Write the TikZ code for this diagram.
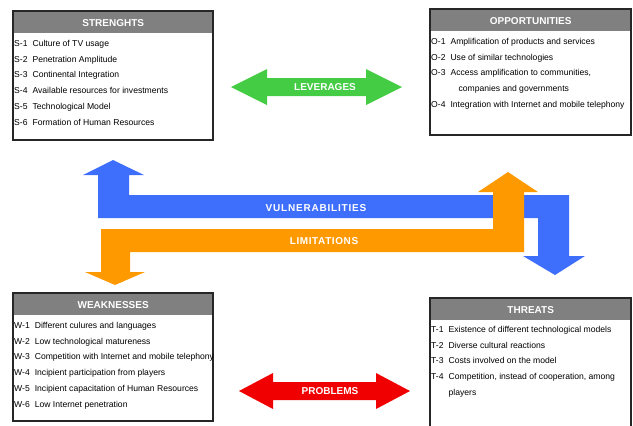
\documentclass[tikz,border=0pt]{standalone}
\usepackage{fontspec}
\setmainfont{Liberation Sans}
\usetikzlibrary{positioning}

\definecolor{hgray}{RGB}{128,128,128}
\definecolor{lgreen}{RGB}{68,204,68}
\definecolor{vblue}{RGB}{62,110,252}
\definecolor{lorange}{RGB}{255,153,0}
\definecolor{pred}{RGB}{240,0,0}

\begin{document}
\begin{tikzpicture}[x=1pt,y=-1pt,font=\fontsize{8.6}{15.8}\selectfont]
\tikzstyle{frame}=[draw=black!85,line width=1.4pt,outer sep=0pt,anchor=north west]
\tikzstyle{head}=[fill=hgray,text=white,font=\fontsize{10}{12}\selectfont\bfseries,minimum height=21,inner sep=0pt,anchor=north west]
\tikzstyle{body}=[anchor=north west,inner sep=0pt,align=left]
\tikzstyle{lab}=[text=white,font=\fontsize{10}{11}\selectfont\bfseries]
\useasboundingbox (0,0) rectangle (633,426);
% strenghts
\node[head,minimum width=200] (sh) at (13,12) {STRENGHTS};
\node[frame,minimum width=200,minimum height=129] (sf) at (13,11) {};
\node[body] (sb) at (14,35) {\begin{tabular}{@{}l@{\hspace{5pt}}l@{}}S-1&Culture of TV usage\\ S-2&Penetration Amplitude\\ S-3&Continental Integration\\ S-4&Available resources for investments\\ S-5&Technological Model\\ S-6&Formation of Human Resources\end{tabular}};
% opportunities
\node[head,minimum width=201] (oh) at (430,10) {OPPORTUNITIES};
\node[frame,minimum width=201,minimum height=126] (of) at (430,9) {};
\node[body] (ob) at (431,33) {\begin{tabular}{@{}l@{\hspace{5pt}}l@{}}O-1&Amplification of products and services\\ O-2&Use of similar technologies\\ O-3&Access amplification to communities,\\ &\hspace{8pt}companies and governments\\ O-4&Integration with Internet and mobile telephony\end{tabular}};
% weaknesses
\node[head,minimum width=200] (wh) at (13,294) {WEAKNESSES};
\node[frame,minimum width=200,minimum height=128] (wf) at (13,293) {};
\node[body] (wb) at (14,317) {\begin{tabular}{@{}l@{\hspace{5pt}}l@{}}W-1&Different culures and languages\\ W-2&Low technological matureness\\ W-3&Competition with Internet and mobile telephony\\ W-4&Incipient participation from players\\ W-5&Incipient capacitation of Human Resources\\ W-6&Low Internet penetration\end{tabular}};
% threats
\node[head,minimum width=201] (th) at (430,299) {THREATS};
\node[frame,minimum width=201,minimum height=140] (tf) at (430,298) {};
\node[body] (tb) at (431,321) {\begin{tabular}{@{}l@{\hspace{5pt}}l@{}}T-1&Existence of different technological models\\ T-2&Diverse cultural reactions\\ T-3&Costs involved on the model\\ T-4&Competition, instead of cooperation, among\\ &players\end{tabular}};
% double arrows
\fill[lgreen] (231,87) -- (267,69) -- (267,78) -- (366,78) -- (366,69) -- (402,87) -- (366,105) -- (366,96) -- (267,96) -- (267,105) -- cycle;
\node[lab] (lev) at (325,87) {LEVERAGES};
\fill[pred] (239,391) -- (273,373) -- (273,382) -- (376,382) -- (376,373) -- (410,391) -- (376,409) -- (376,400) -- (273,400) -- (273,409) -- cycle;
\node[lab] (prob) at (330,391) {PROBLEMS};
% vulnerabilities / limitations
\fill[vblue] (113,160) -- (144,175) -- (129,175) -- (129,195) -- (569,195) -- (569,256) -- (585,256) -- (555,275) -- (523,256) -- (538,256) -- (538,218) -- (98,218) -- (98,175) -- (83,175) -- cycle;
\node[lab] (vul) at (316,208) {\addfontfeature{LetterSpace=8}VULNERABILITIES};
\fill[lorange] (101,229) -- (493,229) -- (493,192) -- (478,192) -- (508,172) -- (538,192) -- (524,192) -- (524,252) -- (130,252) -- (130,272) -- (145,272) -- (115,285) -- (85,272) -- (101,272) -- cycle;
\node[lab] (lim) at (324,241) {\addfontfeature{LetterSpace=6}LIMITATIONS};
\end{tikzpicture}
\end{document}
